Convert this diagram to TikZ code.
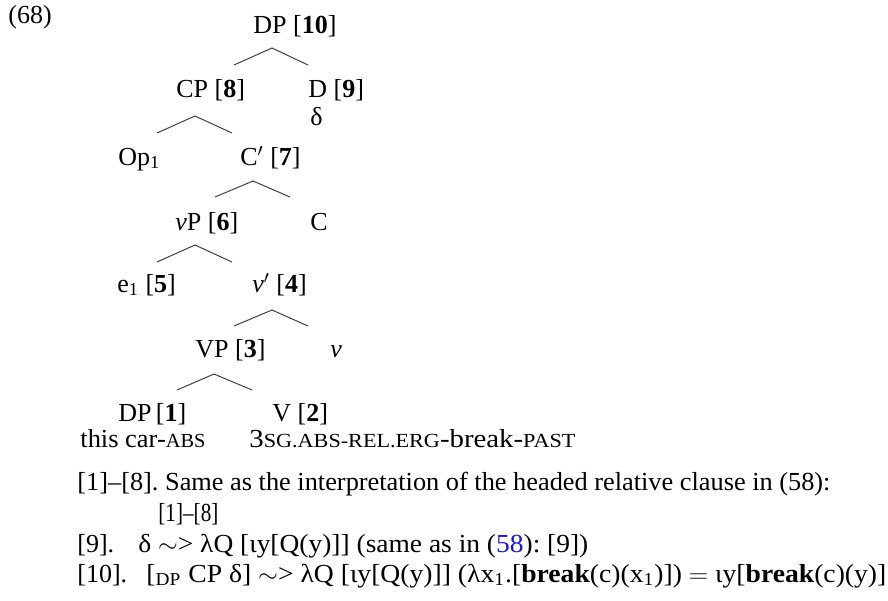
\documentclass[tikz,border=0pt]{standalone}
\usepackage{fontspec}
\setmainfont{Liberation Serif}
\usepackage{xcolor}
\usepackage{graphicx}
\frenchspacing
\definecolor{linkblue}{RGB}{20,20,235}
\newcommand{\glsc}[1]{{\fontsize{10}{11}\selectfont #1}}
\newcommand{\fitw}[2]{\resizebox{#1}{\height}{#2}}
\begin{document}
\begin{tikzpicture}[x=0.5pt,y=-0.5pt,
  lbl/.style={anchor=base west,inner sep=0pt,font=\fontsize{13}{15}\selectfont},
  gls/.style={anchor=base west,inner sep=0pt,font=\fontsize{13}{15}\selectfont},
  txt/.style={anchor=base west,inner sep=0pt,font=\fontsize{13}{15}\selectfont},
  branch/.style={draw=black!75,line width=0.5pt}]
\useasboundingbox (0,0) rectangle (888,600);
% example number
\node[lbl] (ex) at (8,23) {(68)};
% tree labels
\node[lbl] (dp10) at (253,33) {DP [\textbf{10}]};
\node[lbl] (cp8) at (176,97) {CP [\textbf{8}]};
\node[lbl] (d9) at (308,97) {D [\textbf{9}]};
\node[lbl] (delta) at (310,125) {δ};
\node[lbl] (op) at (118,165) {Op\textsubscript{1}};
\node[lbl] (c7) at (240,165) {C$'$ [\textbf{7}]};
\node[lbl] (vp6) at (175,230) {\textit{v}P [\textbf{6}]};
\node[lbl] (c) at (310,230) {C};
\node[lbl] (e5) at (117,292) {e\textsubscript{1} [\textbf{5}]};
\node[lbl] (vbar4) at (252,292) {\textit{v}$'$ [\textbf{4}]};
\node[lbl] (vp3) at (195,357) {VP [\textbf{3}]};
\node[lbl] (v) at (330,357) {\textit{v}};
\node[lbl] (dp1) at (118,421) {DP\,[\textbf{1}]};
\node[lbl] (v2) at (272,421) {V [\textbf{2}]};
% glosses
\node[gls] (g1) at (80,447) {\fitw{62.5pt}{this car-\glsc{ABS}}};
\node[gls] (g2) at (249,447) {\fitw{163pt}{3\glsc{SG.ABS-REL.ERG}-break-\glsc{PAST}}};
% branches
\coordinate (a1) at (272,48); \coordinate (l1) at (234,65); \coordinate (r1) at (308,65);
\coordinate (a2) at (195,116); \coordinate (l2) at (157,133); \coordinate (r2) at (232,133);
\coordinate (a3) at (253,181); \coordinate (l3) at (215,197); \coordinate (r3) at (290,197);
\coordinate (a4) at (195,245); \coordinate (l4) at (157,262); \coordinate (r4) at (232,262);
\coordinate (a5) at (272,310); \coordinate (l5) at (234,326); \coordinate (r5) at (308,326);
\coordinate (a6) at (214,374); \coordinate (l6) at (177,390); \coordinate (r6) at (252,390);
\draw[branch] (l1) -- (a1) -- (r1);
\draw[branch] (l2) -- (a2) -- (r2);
\draw[branch] (l3) -- (a3) -- (r3);
\draw[branch] (l4) -- (a4) -- (r4);
\draw[branch] (l5) -- (a5) -- (r5);
\draw[branch] (l6) -- (a6) -- (r6);
% interpretation lines
\node[txt] (t1) at (77,490) {\fitw{376.5pt}{[1]–[8]. Same as the interpretation of the headed relative clause in (58):}};
\node[txt] (t2) at (158,521) {\fitw{30pt}{[1]–[8]}};
\node[txt] (t3a) at (77,552) {[9].};
\node[txt] (t3b) at (138,552) {\fitw{225pt}{δ $\sim$> λQ [ιy[Q(y)]] (same as in (\textcolor{linkblue}{58}): [9])}};
\node[txt] (t4a) at (77,582) {[10].};
\node[txt] (t4b) at (146,582) {\fitw{370pt}{[\textsubscript{DP} CP δ] $\sim$> λQ [ιy[Q(y)]] (λx$_{\mathrm{1}}$.[\textbf{break}(c)(x$_{\mathrm{1}}$)]) $=$ ιy[\textbf{break}(c)(y)]}};
\end{tikzpicture}
\end{document}
